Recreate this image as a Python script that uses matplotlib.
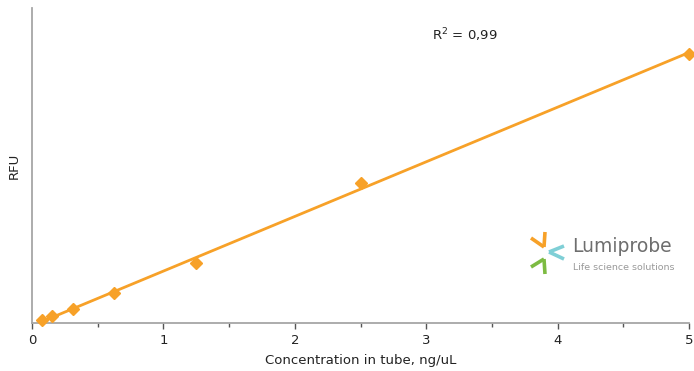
"""
Calibration curve: RFU vs concentration in tube, with linear trendline.
"""
import numpy as np
import matplotlib
matplotlib.use("Agg")
import matplotlib.pyplot as plt
from matplotlib.lines import Line2D

# ── data ──────────────────────────────────────────────────────────────────────
conc = [0.078, 0.156, 0.3125, 0.625, 1.25, 2.5, 5.0]
rfu  = [300, 700, 1370, 3030, 6030, 13970, 26900]
x_ticks = [0, 1, 2, 3, 4, 5]
r2_label = "R$^2$ = 0,99"

ORANGE = "#f7a128"
GRAY   = "#a6a6a6"
plt.rcParams["font.family"] = ["Liberation Sans Narrow", "DejaVu Sans Condensed", "DejaVu Sans"]
plt.rcParams["mathtext.fontset"] = "dejavusans"

# ── figure ────────────────────────────────────────────────────────────────────
fig = plt.figure(figsize=(6.94, 3.71), dpi=100)
ax = fig.add_axes([32 / 694, 48 / 371, 657 / 694, 315 / 371])

# linear trendline
k, b = np.polyfit(conc, rfu, 1)
xl = np.array([conc[0], conc[-1]])
ax.plot(xl, k * xl + b, color=ORANGE, lw=2, zorder=2)
ax.plot(conc, rfu, ls="none", marker="D", ms=6.5, color=ORANGE, zorder=3,
        clip_on=False)

ax.set_xlim(0, 5)
ax.set_ylim(0, 31500)
ax.set_xticks(x_ticks)
ax.set_xticks(np.arange(0.5, 5, 1), minor=True)
ax.set_yticks([])
for s in ["top", "right"]:
    ax.spines[s].set_visible(False)
for s in ["left", "bottom"]:
    ax.spines[s].set_color(GRAY)
    ax.spines[s].set_linewidth(1.3)
ax.tick_params(axis="x", which="major", length=4, width=1, color="#555555",
               labelsize=9.5, pad=4, labelcolor="#222222")
ax.tick_params(axis="x", which="minor", length=3, width=1, color="#555555")

ax.set_xlabel("Concentration in tube, ng/uL", fontsize=9.5, labelpad=5,
              color="#222222")
ax.set_ylabel("RFU", fontsize=9.5, labelpad=8, color="#222222")
ax.text(465 / 694, 1 - 35 / 371, r2_label, transform=fig.transFigure,
        ha="center", va="center", fontsize=9.5, color="#222222")

# ── logo ──────────────────────────────────────────────────────────────────────
def seg(p, q, c):
    fig.lines.append(Line2D([p[0] / 694, q[0] / 694],
                            [1 - p[1] / 371, 1 - q[1] / 371],
                            lw=2.6, color=c, solid_capstyle="butt",
                            transform=fig.transFigure, figure=fig))

seg((531, 238), (544, 247), "#f7a128")
seg((545, 232), (544, 247), "#f7a128")
seg((564, 246), (549, 252), "#7fcfd6")
seg((564, 259), (549, 252), "#7fcfd6")
seg((531, 267), (544, 259), "#7dbb42")
seg((545, 274), (544, 259), "#7dbb42")

fig.text(572 / 694, 1 - 246 / 371, "Lumiprobe", fontsize=13.5, color="#6e6e6e",
         ha="left", va="center")
fig.text(573 / 694, 1 - 268 / 371, "Life science solutions", fontsize=6.8,
         color="#999999", ha="left", va="center")

plt.savefig("out.png", dpi=100)
